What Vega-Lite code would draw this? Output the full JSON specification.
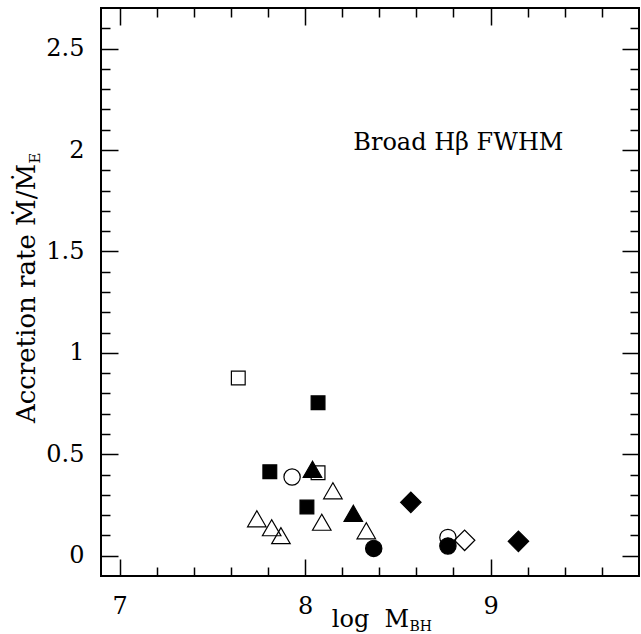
{
  "$schema": "https://vega.github.io/schema/vega-lite/v6.json",
  "width": 538,
  "height": 568,
  "autosize": {"type": "none"},
  "padding": {"left": 101, "top": 8, "right": 2, "bottom": 58},
  "background": "white",
  "datasets": {
    "pts": [
      {"logM": 7.64, "rate": 0.876, "marker": "square", "filled": "no"},
      {"logM": 7.93, "rate": 0.388, "marker": "circle", "filled": "no"},
      {"logM": 8.07, "rate": 0.409, "marker": "square", "filled": "no"},
      {"logM": 8.15, "rate": 0.32, "marker": "triangle", "filled": "no"},
      {"logM": 8.09, "rate": 0.165, "marker": "triangle", "filled": "no"},
      {"logM": 8.33, "rate": 0.123, "marker": "triangle", "filled": "no"},
      {"logM": 7.74, "rate": 0.182, "marker": "triangle", "filled": "no"},
      {"logM": 7.82, "rate": 0.138, "marker": "triangle", "filled": "no"},
      {"logM": 7.87, "rate": 0.099, "marker": "triangle", "filled": "no"},
      {"logM": 8.77, "rate": 0.09, "marker": "circle", "filled": "no"},
      {"logM": 8.86, "rate": 0.076, "marker": "diamond", "filled": "no"},
      {"logM": 8.07, "rate": 0.754, "marker": "square", "filled": "yes"},
      {"logM": 7.81, "rate": 0.414, "marker": "square", "filled": "yes"},
      {"logM": 8.04, "rate": 0.426, "marker": "triangle", "filled": "yes"},
      {"logM": 8.01, "rate": 0.24, "marker": "square", "filled": "yes"},
      {"logM": 8.26, "rate": 0.209, "marker": "triangle", "filled": "yes"},
      {"logM": 8.37, "rate": 0.036, "marker": "circle", "filled": "yes"},
      {"logM": 8.57, "rate": 0.263, "marker": "diamond", "filled": "yes"},
      {"logM": 8.77, "rate": 0.048, "marker": "circle", "filled": "yes"},
      {"logM": 9.15, "rate": 0.071, "marker": "diamond", "filled": "yes"}
    ],
    "note": [{"label": "Broad Hβ FWHM", "logM": 8.26, "rate": 2.0}]
  },
  "data": {"name": "pts"},
  "resolve": {"axis": {"x": "independent", "y": "independent"}},
  "layer": [
    {
      "mark": {"type": "point", "filled": true, "stroke": "black", "strokeWidth": 1.2, "opacity": 1},
      "encoding": {
        "x": {
          "field": "logM", "type": "quantitative",
          "scale": {"domain": [6.9, 9.8], "nice": false, "zero": false},
          "axis": {
            "orient": "bottom", "values": [7, 8, 9], "format": "d",
            "tickSize": -17, "labelPadding": 35.5,
            "title": "log \u00a0M", "titleX": 269, "titleY": 50,
            "titleAlign": "center", "titleBaseline": "alphabetic", "titleFontSize": 24
          }
        },
        "y": {
          "field": "rate", "type": "quantitative",
          "scale": {"domain": [-0.1, 2.7], "nice": false, "zero": false},
          "axis": {
            "orient": "left", "values": [0, 0.5, 1, 1.5, 2, 2.5], "format": "~g",
            "tickSize": -17, "labelPadding": 34,
            "title": "Accretion rate Ṁ/Ṁ", "titleX": -67, "titleY": 285,
            "titleAngle": 270, "titleAlign": "center", "titleBaseline": "alphabetic", "titleFontSize": 26
          }
        },
        "shape": {
          "field": "marker", "type": "nominal", "legend": null,
          "scale": {"domain": ["square", "circle", "triangle", "diamond"], "range": ["square", "circle", "triangle-up", "diamond"]}
        },
        "size": {
          "field": "marker", "type": "nominal", "legend": null,
          "scale": {"domain": ["square", "circle", "triangle", "diamond"], "range": [190, 420, 280, 330]}
        },
        "fill": {
          "field": "filled", "type": "nominal", "legend": null,
          "scale": {"domain": ["yes", "no"], "range": ["black", "transparent"]}
        }
      }
    },
    {
      "data": {"name": "note"},
      "mark": {"type": "text", "align": "left", "baseline": "alphabetic", "font": "DejaVu Serif", "fontSize": 24, "color": "black"},
      "encoding": {
        "x": {
          "field": "logM", "type": "quantitative",
          "scale": {"domain": [6.9, 9.8], "nice": false, "zero": false},
          "axis": {
            "orient": "bottom", "values": [7.2, 7.4, 7.6, 7.8, 8.2, 8.4, 8.6, 8.8, 9.2, 9.4, 9.6],
            "tickSize": -9, "labels": false,
            "title": "BH", "titleX": 308, "titleY": 54, "titleAlign": "left",
            "titleBaseline": "alphabetic", "titleFontSize": 14
          }
        },
        "y": {
          "field": "rate", "type": "quantitative",
          "scale": {"domain": [-0.1, 2.7], "nice": false, "zero": false},
          "axis": {
            "orient": "left",
            "values": [0.1, 0.2, 0.3, 0.4, 0.6, 0.7, 0.8, 0.9, 1.1, 1.2, 1.3, 1.4, 1.6, 1.7, 1.8, 1.9, 2.1, 2.2, 2.3, 2.4, 2.6],
            "tickSize": -9, "labels": false,
            "title": "E", "titleX": -62, "titleY": 155, "titleAngle": 270,
            "titleAlign": "left", "titleBaseline": "alphabetic", "titleFontSize": 15
          }
        },
        "text": {"field": "label", "type": "nominal"}
      }
    },
    {
      "mark": {"type": "point", "opacity": 0},
      "encoding": {
        "x": {
          "field": "logM", "type": "quantitative",
          "scale": {"domain": [6.9, 9.8], "nice": false, "zero": false},
          "axis": {"orient": "top", "values": [7, 8, 9], "tickSize": -17, "labels": false, "title": null}
        },
        "y": {
          "field": "rate", "type": "quantitative",
          "scale": {"domain": [-0.1, 2.7], "nice": false, "zero": false},
          "axis": {"orient": "right", "values": [0, 0.5, 1, 1.5, 2, 2.5], "tickSize": -17, "labels": false, "title": null}
        }
      }
    },
    {
      "mark": {"type": "point", "opacity": 0},
      "encoding": {
        "x": {
          "field": "logM", "type": "quantitative",
          "scale": {"domain": [6.9, 9.8], "nice": false, "zero": false},
          "axis": {"orient": "top", "values": [7.2, 7.4, 7.6, 7.8, 8.2, 8.4, 8.6, 8.8, 9.2, 9.4, 9.6], "tickSize": -9, "labels": false, "title": null}
        },
        "y": {
          "field": "rate", "type": "quantitative",
          "scale": {"domain": [-0.1, 2.7], "nice": false, "zero": false},
          "axis": {
            "orient": "right",
            "values": [0.1, 0.2, 0.3, 0.4, 0.6, 0.7, 0.8, 0.9, 1.1, 1.2, 1.3, 1.4, 1.6, 1.7, 1.8, 1.9, 2.1, 2.2, 2.3, 2.4, 2.6],
            "tickSize": -9, "labels": false, "title": null
          }
        }
      }
    }
  ],
  "config": {
    "font": "DejaVu Serif",
    "view": {"stroke": "black", "strokeWidth": 2},
    "axis": {
      "grid": false, "domain": false,
      "tickColor": "black", "tickWidth": 1.5,
      "labelColor": "black", "titleColor": "black",
      "labelFont": "DejaVu Serif", "titleFont": "DejaVu Serif",
      "labelFontSize": 24, "titleFontWeight": "normal",
      "labelFlush": false, "labelOverlap": false, "labelBound": false
    }
  }
}
